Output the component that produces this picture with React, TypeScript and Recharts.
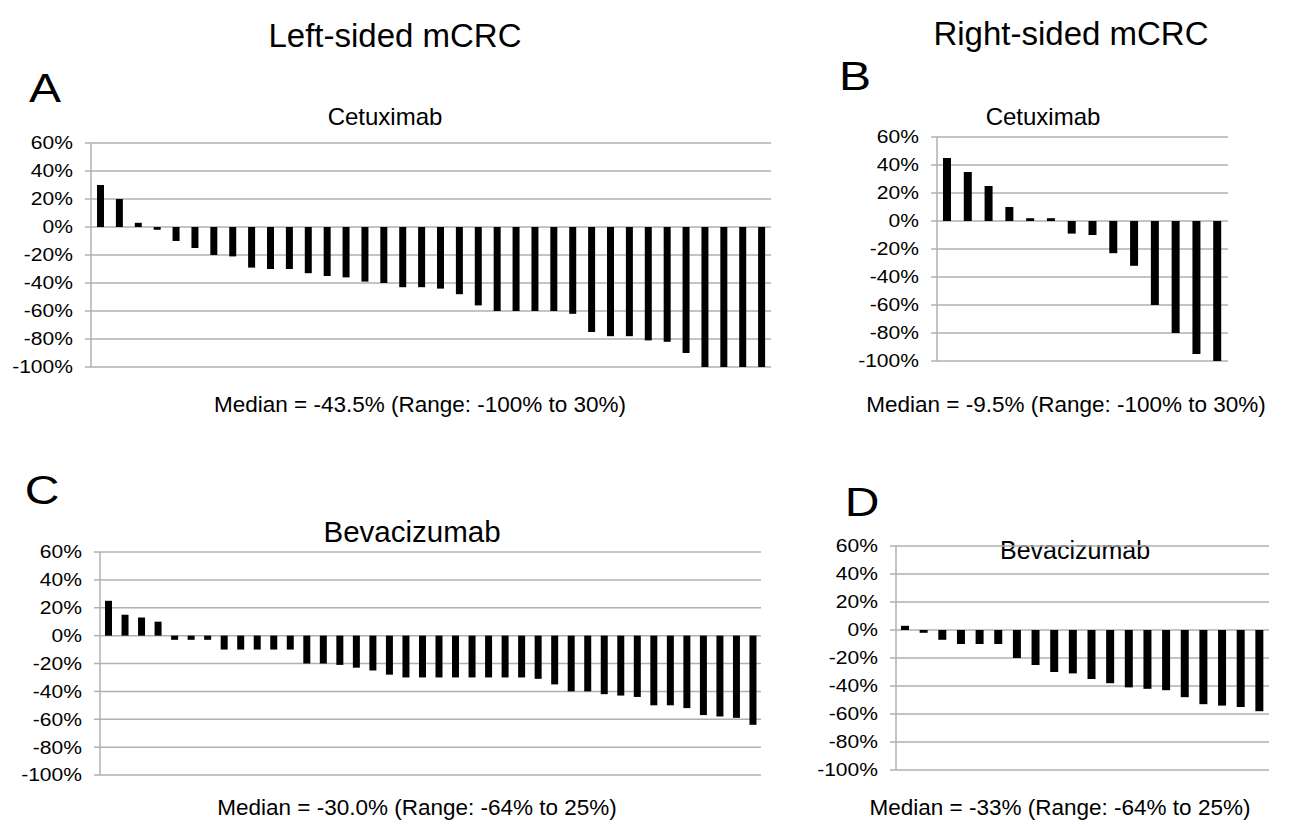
import { BarChart, Bar, XAxis, YAxis, CartesianGrid } from 'recharts';

// tumour shrinkage per patient (%)
const leftCetuximab = [
    30, 20, 3, -2, -10, -15, -20, -21, -29, -30, -30, -33, -35, -36, -39, -40, -43, -43,
    -44, -48, -56, -60, -60, -60, -60, -62, -75, -78, -78, -81, -82, -90, -100, -100, -100, -100,
];
const rightCetuximab = [45, 35, 25, 10, 2, 2, -9, -10, -23, -32, -60, -80, -95, -100];
const leftBevacizumab = [
    25, 15, 13, 10, -3, -3, -3, -10, -10, -10, -10, -10, -20, -20, -21, -23, -25, -28, -30, -30,
    -30, -30, -30, -30, -30, -30, -31, -35, -40, -40, -42, -43, -44, -50, -50, -52, -57, -58, -59, -64,
];
const rightBevacizumab = [3, -2, -7, -10, -10, -10, -20, -25, -30, -31, -35, -38, -41, -42, -43, -48, -53, -54, -55, -58];

const yTicks = [-100, -80, -60, -40, -20, 0, 20, 40, 60];

const FONT = 'Arial, "Liberation Sans", Helvetica, sans-serif';
const GRID = '#b0b0b0';

// tick labels in the source are a bit wider than plain Arial
const PercentTick = (props: any) => {
    const { x, y, payload } = props;
    return (
        <text
            x={0}
            y={0}
            dy="0.355em"
            transform={`translate(${x},${y}) scale(1.17,1)`}
            textAnchor="end"
            fontSize={18}
            fontFamily={FONT}
            fill="#000"
        >
            {`${payload.value}%`}
        </text>
    );
};

interface PanelProps {
    values: number[];
    left: number;
    top: number;
    plotW: number;
    plotH: number;
    barSize: number;
}

function Panel({ values, left, top, plotW, plotH, barSize }: PanelProps) {
    const data = values.map((v, i) => ({ id: i + 1, value: v }));
    const axisW = 90;
    return (
        <div style={{ position: 'absolute', left: left - axisW, top: top - 10 }}>
            <BarChart
                width={plotW + axisW + 5}
                height={plotH + 20}
                data={data}
                margin={{ top: 10, right: 5, bottom: 10, left: 0 }}
            >
                <CartesianGrid vertical={false} stroke={GRID} strokeWidth={1.5} />
                <XAxis dataKey="id" hide />
                <YAxis
                    type="number"
                    domain={[-100, 60]}
                    ticks={yTicks}
                    interval={0}
                    width={axisW}
                    tick={<PercentTick />}
                    tickLine={{ stroke: GRID, strokeWidth: 1.5 }}
                    axisLine={{ stroke: GRID, strokeWidth: 1.5 }}
                    tickSize={6}
                    tickMargin={12}
                />
                <Bar dataKey="value" fill="#000" barSize={barSize} isAnimationActive={false} />
            </BarChart>
        </div>
    );
}

function Label({ x, y, size, stretch = 1, children }: { x: number; y: number; size: number; stretch?: number; children: string }) {
    return (
        <div
            style={{
                position: 'absolute',
                left: x,
                top: y,
                transform: `translate(-50%, -50%) scaleX(${stretch})`,
                whiteSpace: 'nowrap',
                fontFamily: FONT,
                fontSize: size,
                lineHeight: 1,
                color: '#000',
            }}
        >
            {children}
        </div>
    );
}

export default function App() {
    return (
        <div style={{ position: 'absolute', left: 0, top: 0, width: 1295, height: 825, background: '#fff', overflow: 'hidden' }}>
            <Label x={395} y={35} size={33}>Left-sided mCRC</Label>
            <Label x={1071} y={33} size={33}>Right-sided mCRC</Label>

            <Label x={45} y={88} size={40} stretch={1.2}>A</Label>
            <Label x={385} y={117} size={24}>Cetuximab</Label>
            <Panel values={leftCetuximab} left={91} top={143} plotW={680} plotH={224} barSize={7} />
            <Label x={420} y={405} size={22.5}>Median = -43.5% (Range: -100% to 30%)</Label>

            <Label x={855} y={76} size={40} stretch={1.2}>B</Label>
            <Label x={1043} y={117} size={24}>Cetuximab</Label>
            <Panel values={rightCetuximab} left={937} top={137} plotW={291} plotH={224} barSize={8} />
            <Label x={1066} y={405} size={22.5}>Median = -9.5% (Range: -100% to 30%)</Label>

            <Label x={42} y={490} size={40} stretch={1.2}>C</Label>
            <Label x={412} y={532} size={29.5}>Bevacizumab</Label>
            <Panel values={leftBevacizumab} left={100} top={552} plotW={661} plotH={223} barSize={7} />
            <Label x={417} y={808} size={22.5}>Median = -30.0% (Range: -64% to 25%)</Label>

            <Label x={862} y={502} size={40} stretch={1.2}>D</Label>
            <Label x={1075} y={550} size={25}>Bevacizumab</Label>
            <Panel values={rightBevacizumab} left={896} top={546} plotW={373} plotH={224} barSize={8} />
            <Label x={1060} y={808} size={22.5}>Median = -33% (Range: -64% to 25%)</Label>
        </div>
    );
}
